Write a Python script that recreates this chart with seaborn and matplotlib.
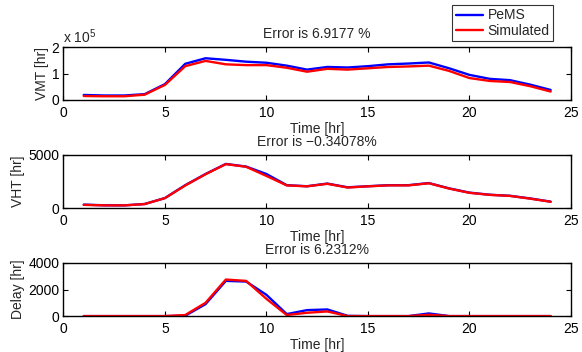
import numpy as np
import pandas as pd
import matplotlib
matplotlib.use('Agg')
import matplotlib.pyplot as plt
import seaborn as sns
from matplotlib.lines import Line2D

# data
hours = list(range(1, 25))

vmt_pems = [0.19, 0.17, 0.17, 0.22, 0.60, 1.37, 1.58, 1.52, 1.45, 1.41, 1.30, 1.15,
            1.25, 1.23, 1.28, 1.35, 1.38, 1.42, 1.20, 0.95, 0.80, 0.75, 0.58, 0.38]
vmt_sim = [0.15, 0.14, 0.14, 0.20, 0.57, 1.28, 1.48, 1.35, 1.32, 1.32, 1.22, 1.07,
           1.18, 1.15, 1.20, 1.25, 1.27, 1.30, 1.10, 0.83, 0.72, 0.68, 0.52, 0.32]

vht_pems = [320, 260, 250, 380, 940, 2150, 3200, 4150, 3900, 3200, 2150, 2050,
            2300, 1950, 2050, 2150, 2150, 2350, 1850, 1450, 1250, 1150, 900, 600]
vht_sim = [300, 250, 250, 370, 930, 2120, 3180, 4130, 3880, 3020, 2130, 2040,
           2280, 1930, 2040, 2130, 2130, 2330, 1830, 1430, 1240, 1140, 880, 590]

delay_pems = [0, 0, 0, 0, 0, 30, 900, 2650, 2600, 1600, 150, 450,
              500, 20, 0, 0, 0, 200, 0, 0, 0, 0, 0, 0]
delay_sim = [0, 0, 0, 0, 0, 80, 1000, 2750, 2650, 1300, 80, 250,
             350, 0, 0, 0, 0, 100, 0, 0, 0, 0, 0, 0]

titles = ['Error is 6.9177 %', 'Error is \u22120.34078%', 'Error is 6.2312%']
ylabels = ['VMT [hr]', 'VHT [hr]', 'Delay [hr]']
yticks = [[0, 1, 2], [0, 5000], [0, 2000, 4000]]
ylims = [(0, 2), (0, 5000), (0, 4000)]

sns.set_style('ticks')
plt.rcParams['font.family'] = ['Liberation Sans', 'DejaVu Sans']
plt.rcParams['mathtext.fontset'] = 'custom'
plt.rcParams['mathtext.rm'] = 'Liberation Sans'
plt.rcParams['font.size'] = 10

fig = plt.figure(figsize=(5.82, 3.52), dpi=100)
# axes boxes [left, bottom, width, height] in figure fractions
boxes = [[0.109, 0.716, 0.872, 0.150],
         [0.109, 0.409, 0.872, 0.151],
         [0.109, 0.102, 0.872, 0.151]]

series = [(vmt_pems, vmt_sim), (vht_pems, vht_sim), (delay_pems, delay_sim)]

for i, (pems, sim) in enumerate(series):
    ax = fig.add_axes(boxes[i])
    sns.lineplot(x=hours, y=pems, color='blue', lw=1.7, ax=ax)
    sns.lineplot(x=hours, y=sim, color='red', lw=1.7, ax=ax)
    ax.set_xlim(0, 25)
    ax.set_ylim(*ylims[i])
    ax.set_xticks([0, 5, 10, 15, 20, 25])
    ax.set_yticks(yticks[i])
    ax.tick_params(direction='in', top=True, right=True, length=3.5,
                   width=0.8, labelsize=10, colors='black')
    ax.tick_params(axis='x', pad=4)
    ax.tick_params(axis='y', pad=3)
    for s in ax.spines.values():
        s.set_linewidth(1.0)
        s.set_color('black')
    ax.set_xlabel('Time [hr]', fontsize=10, labelpad=2)
    ax.set_ylabel(ylabels[i], fontsize=10, labelpad=2)
    ax.set_title(titles[i], fontsize=10, pad=6.5)
    if i == 0:
        ax.text(0.0, 1.03, r'x 10$^5$', transform=ax.transAxes,
                ha='left', va='bottom', fontsize=10)

handles = [Line2D([], [], color='blue', lw=1.7), Line2D([], [], color='red', lw=1.7)]
leg = fig.legend(handles, ['PeMS', 'Simulated'], loc='upper right',
                 bbox_to_anchor=(553 / 582, 1 - 5 / 352), fontsize=10,
                 frameon=True, fancybox=False, handlelength=2.0,
                 borderpad=0.25, labelspacing=0.1, handletextpad=0.3,
                 borderaxespad=0)
leg.get_frame().set_edgecolor('black')
leg.get_frame().set_linewidth(0.8)

fig.savefig('out.png', dpi=100)
